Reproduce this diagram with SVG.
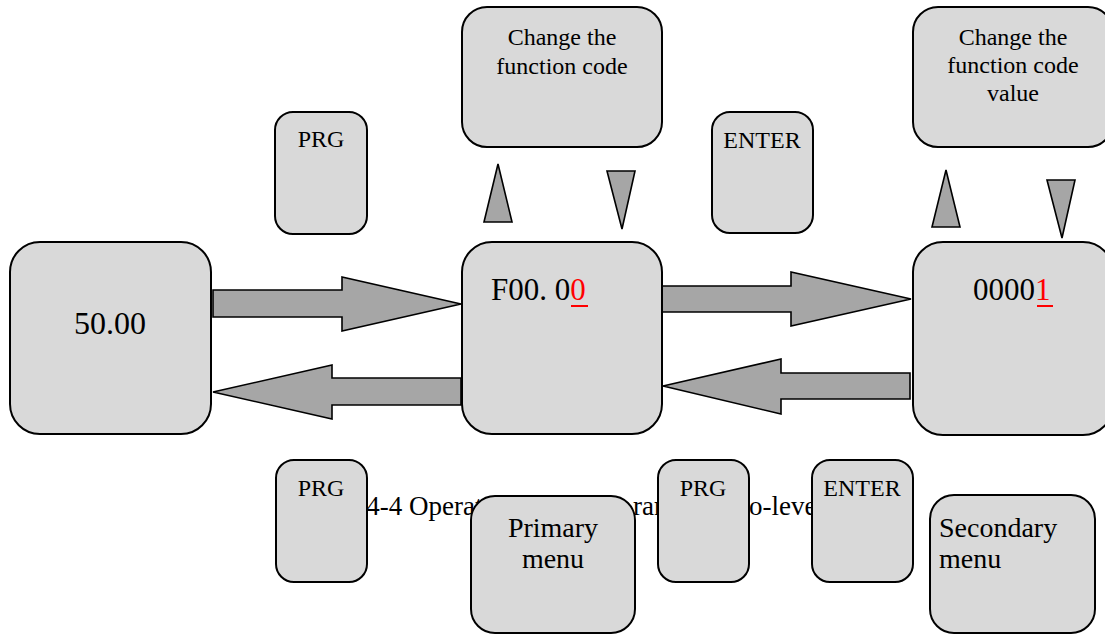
<svg xmlns="http://www.w3.org/2000/svg" width="1105" height="634" viewBox="0 0 1105 634">
  <style>
    .box { fill: #d9d9d9; stroke: #000; stroke-width: 2; }
    .arrow { fill: #a6a6a6; stroke: #000; stroke-width: 1.6; stroke-linejoin: miter; }
    .t { font-family: "Liberation Serif", "Times New Roman", serif; fill: #000; }
    .key { font-size: 24px; text-anchor: middle; }
    .note { font-size: 24px; text-anchor: middle; }
    .disp { font-size: 31px; }
    .menu { font-size: 28px; }
    .cur { fill: #ff0000; }
    .ul { stroke: #ff0000; stroke-width: 2; }
  </style>

  <!-- figure caption (mostly covered by the bottom legend boxes) -->
  <text class="t" x="289" y="515" font-size="27">Figure 4-4 Operation flow diag<tspan x="633">ram of tw</tspan><tspan x="749">o-level menu</tspan></text>

  <!-- block arrows between the three display states -->
  <g id="connectors">
    <polygon class="arrow" points="213,290 342,290 342,277 461,304 342,331 342,317 213,317"/>
    <polygon class="arrow" points="461,378 332,378 332,365 213,392 332,419 332,405 461,405"/>
    <polygon class="arrow" points="662,286 791,286 791,272 911,299 791,326 791,312 662,312"/>
    <polygon class="arrow" points="910,373 781,373 781,359 663,386 781,414 781,399 910,399"/>
  </g>

  <!-- running display -->
  <g id="node-run">
    <rect class="box" x="10" y="242" width="201" height="192" rx="30"/>
    <text class="t" x="110" y="334" font-size="32" text-anchor="middle">50.00</text>
  </g>

  <!-- primary menu display -->
  <g id="node-primary-display">
    <rect class="box" x="462" y="242" width="200" height="192" rx="30"/>
    <text class="t disp" x="491" y="300">F00. 0<tspan class="cur">0</tspan></text>
    <line class="ul" x1="571" y1="306" x2="588" y2="306"/>
  </g>

  <!-- secondary menu display -->
  <g id="node-secondary-display">
    <rect class="box" x="913" y="242" width="200" height="193" rx="30"/>
    <text class="t disp" x="973" y="300">0000<tspan class="cur">1</tspan></text>
    <line class="ul" x1="1037" y1="306" x2="1053" y2="306"/>
  </g>

  <!-- notes -->
  <g id="node-change-code">
    <rect class="box" x="462" y="7" width="200" height="140" rx="25"/>
    <text class="t note" x="562" y="45">Change the</text>
    <text class="t note" x="562" y="74">function code</text>
  </g>
  <g id="node-change-value">
    <rect class="box" x="913" y="7" width="200" height="140" rx="25"/>
    <text class="t note" x="1013" y="45">Change the</text>
    <text class="t note" x="1013" y="73">function code</text>
    <text class="t note" x="1013" y="101">value</text>
  </g>

  <!-- up / down key symbols -->
  <g id="key-up-1"><polygon class="arrow" points="498,164 512,222 484,222"/></g>
  <g id="key-down-1"><polygon class="arrow" points="607,171 635,171 622,229"/></g>
  <g id="key-up-2"><polygon class="arrow" points="946,170 960,227 932,227"/></g>
  <g id="key-down-2"><polygon class="arrow" points="1047,180 1075,180 1062,238"/></g>

  <!-- keys -->
  <g id="key-prg-top">
    <rect class="box" x="275" y="112" width="92" height="122" rx="18"/>
    <text class="t key" x="321" y="147">PRG</text>
  </g>
  <g id="key-enter-top">
    <rect class="box" x="712" y="112" width="101" height="121" rx="18"/>
    <text class="t key" x="762" y="148">ENTER</text>
  </g>
  <g id="key-prg-bottom-left">
    <rect class="box" x="276" y="460" width="91" height="122" rx="18"/>
    <text class="t key" x="321" y="496">PRG</text>
  </g>
  <g id="key-prg-bottom-mid">
    <rect class="box" x="658" y="460" width="91" height="122" rx="18"/>
    <text class="t key" x="703" y="496">PRG</text>
  </g>
  <g id="key-enter-bottom">
    <rect class="box" x="812" y="460" width="101" height="122" rx="18"/>
    <text class="t key" x="862" y="496">ENTER</text>
  </g>

  <!-- menu legends -->
  <g id="node-primary-menu">
    <rect class="box" x="471" y="496" width="164" height="137" rx="24"/>
    <text class="t menu" x="553" y="537" text-anchor="middle">Primary</text>
    <text class="t menu" x="553" y="568" text-anchor="middle">menu</text>
  </g>
  <g id="node-secondary-menu">
    <rect class="box" x="930" y="495" width="165" height="138" rx="24"/>
    <text class="t menu" x="939" y="537">Secondary</text>
    <text class="t menu" x="939" y="568">menu</text>
  </g>
</svg>
